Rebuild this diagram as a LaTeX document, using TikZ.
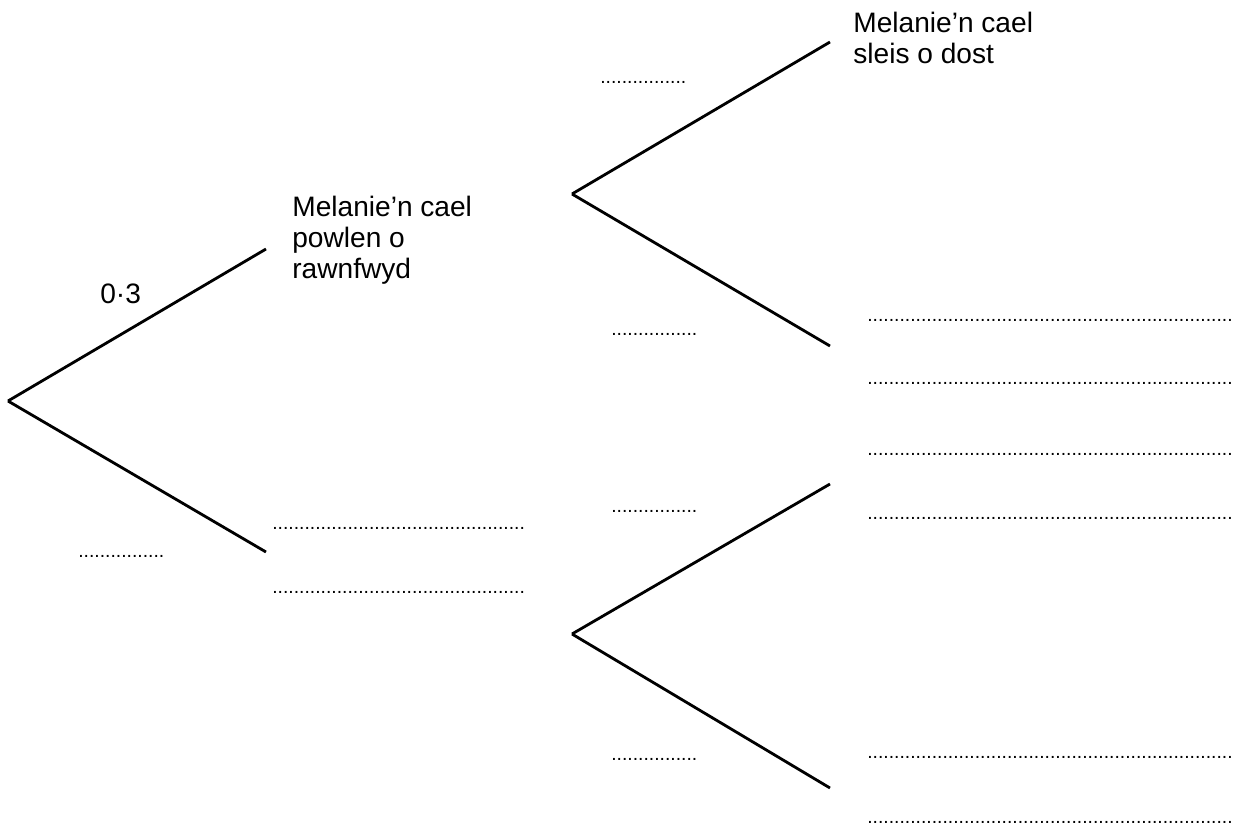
\documentclass[tikz,border=0pt]{standalone}
\usepackage{fontspec}
\setmainfont{Liberation Sans}
\usetikzlibrary{positioning}
\newcommand{\dotrow}[1]{\foreach \d in {1,...,#1}{.}}

\begin{document}
\begin{tikzpicture}[x=0.02cm, y=-0.02cm]

        % Setup the styles for the branches and the texts
        \tikzset{branch style/.style={line width=1.6pt},
                 label style/.style={font=\fontsize{16}{17.7}\selectfont,
                                     align=left,
                                     inner sep=0pt,
                                     anchor=base west},
                 answer style/.style={font=\fontsize{11}{13}\selectfont,
                                      inner sep=0pt,
                                      anchor=base west}}

        \useasboundingbox (0,0) rectangle (1239,827);

        % Place the branch points
        \coordinate (root)     at (8, 401);
        \coordinate (cereal)   at (266, 249);
        \coordinate (nocereal) at (266, 552);
        \coordinate (toastA)   at (572, 194);
        \coordinate (toastB)   at (572, 634);
        \coordinate (A1)       at (830, 42);
        \coordinate (A2)       at (830, 346);
        \coordinate (B1)       at (830, 484);
        \coordinate (B2)       at (830, 788);

        % Draw the branches
        \draw[branch style]
            (root)   edge (cereal)
            (root)   edge (nocereal)
            (toastA) edge (A1)
            (toastA) edge (A2)
            (toastB) edge (B1)
            (toastB) edge (B2);

        % Draw the texts
        \node[label style] at (100, 303) (p1)     {0·3};
        \node[label style, anchor=north west] at (292, 196) (cerealtext) {Melanie’n cael\\powlen o\\rawnfwyd};
        \node[label style, anchor=north west] at (853, 12)  (toasttext)  {Melanie’n cael\\sleis o dost};

        % Draw the answer lines
        \node[answer style] at (78, 557)  (q1) {\dotrow{16}};
        \node[answer style] at (272, 529) (e1) {\dotrow{47}};
        \node[answer style] at (272, 593) (e2) {\dotrow{47}};
        \node[answer style] at (600, 84)  (q2) {\dotrow{16}};
        \node[answer style] at (611, 335) (q3) {\dotrow{16}};
        \node[answer style] at (611, 512) (q4) {\dotrow{16}};
        \node[answer style] at (611, 760) (q5) {\dotrow{16}};
        \node[answer style] at (867, 321) (e3) {\dotrow{68}};
        \node[answer style] at (867, 384) (e4) {\dotrow{68}};
        \node[answer style] at (867, 455) (e5) {\dotrow{68}};
        \node[answer style] at (867, 519) (e6) {\dotrow{68}};
        \node[answer style] at (867, 758) (e7) {\dotrow{68}};
        \node[answer style] at (867, 823) (e8) {\dotrow{68}};
    \end{tikzpicture}
\end{document}
